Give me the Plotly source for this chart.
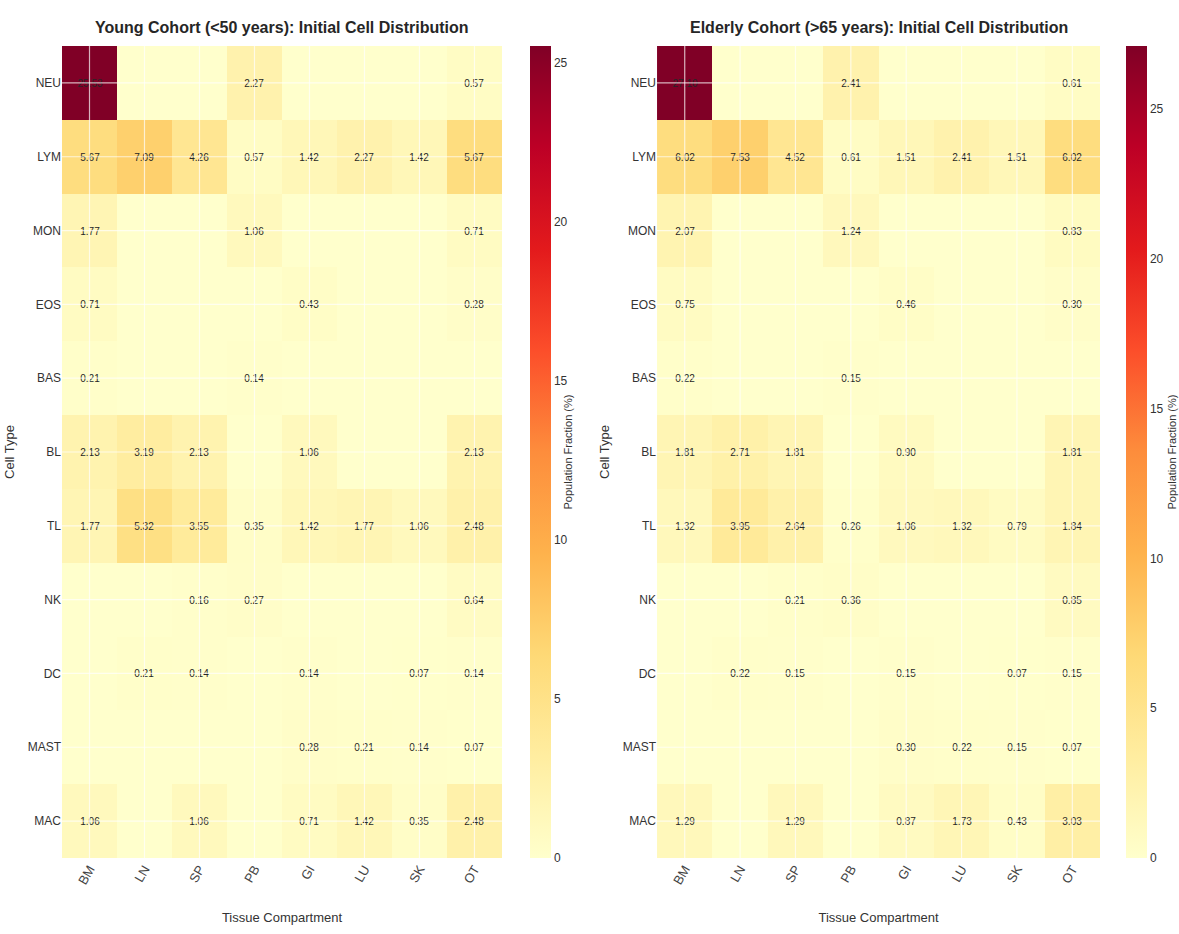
import plotly.graph_objects as go

tissues = ["BM", "LN", "SP", "PB", "GI", "LU", "SK", "OT"]
cell_types = ["NEU", "LYM", "MON", "EOS", "BAS", "BL", "TL", "NK", "DC", "MAST", "MAC"]

young = [
    [25.53, 0, 0, 2.27, 0, 0, 0, 0.57],
    [5.67, 7.09, 4.26, 0.57, 1.42, 2.27, 1.42, 5.67],
    [1.77, 0, 0, 1.06, 0, 0, 0, 0.71],
    [0.71, 0, 0, 0, 0.43, 0, 0, 0.28],
    [0.21, 0, 0, 0.14, 0, 0, 0, 0],
    [2.13, 3.19, 2.13, 0, 1.06, 0, 0, 2.13],
    [1.77, 5.32, 3.55, 0.35, 1.42, 1.77, 1.06, 2.48],
    [0, 0, 0.16, 0.27, 0, 0, 0, 0.64],
    [0, 0.21, 0.14, 0, 0.14, 0, 0.07, 0.14],
    [0, 0, 0, 0, 0.28, 0.21, 0.14, 0.07],
    [1.06, 0, 1.06, 0, 0.71, 1.42, 0.35, 2.48],
]

elderly = [
    [27.10, 0, 0, 2.41, 0, 0, 0, 0.61],
    [6.02, 7.53, 4.52, 0.61, 1.51, 2.41, 1.51, 6.02],
    [2.07, 0, 0, 1.24, 0, 0, 0, 0.83],
    [0.75, 0, 0, 0, 0.46, 0, 0, 0.30],
    [0.22, 0, 0, 0.15, 0, 0, 0, 0],
    [1.81, 2.71, 1.81, 0, 0.90, 0, 0, 1.81],
    [1.32, 3.95, 2.64, 0.26, 1.06, 1.32, 0.79, 1.84],
    [0, 0, 0.21, 0.36, 0, 0, 0, 0.85],
    [0, 0.22, 0.15, 0, 0.15, 0, 0.07, 0.15],
    [0, 0, 0, 0, 0.30, 0.22, 0.15, 0.07],
    [1.29, 0, 1.29, 0, 0.87, 1.73, 0.43, 3.03],
]

titles = ["Young Cohort (<50 years): Initial Cell Distribution",
          "Elderly Cohort (>65 years): Initial Cell Distribution"]

BASE = "Liberation Sans, Arial, DejaVu Sans"

def labels(z):
    return [[("%.2f" % v) if v > 0 else "" for v in row] for row in z]

fig = go.Figure()

domains = [[0.0, 0.4085], [0.5525, 0.9638]]
cbx = [0.4345, 0.9875]

for i, z in enumerate([young, elderly]):
    xa = "x" if i == 0 else "x2"
    ya = "y" if i == 0 else "y2"
    zmax = max(max(r) for r in z)
    fig.add_trace(go.Heatmap(
        z=z, x=tissues, y=cell_types,
        colorscale="YlOrRd", zmin=0, zmax=zmax,
        text=labels(z), texttemplate="%{text}",
        textfont=dict(family=BASE, size=10, color="#262626"),
        xaxis=xa, yaxis=ya,
        colorbar=dict(
            x=cbx[i], xanchor="left", y=0.5, yanchor="middle", len=1.0,
            thickness=21, outlinewidth=0, xpad=0, ypad=0,
            tickvals=[0, 5, 10, 15, 20, 25], ticks="",
            tickfont=dict(family=BASE, size=12, color="#333"),
            title=dict(text="Population Fraction (%)", side="right",
                       font=dict(family=BASE, size=11, color="#333")),
        ),
    ))

    # white grid lines at category centres drawn over the cells
    for t in tissues:
        fig.add_shape(type="line", xref=xa, yref=ya + " domain", x0=t, x1=t, y0=0, y1=1,
                      line=dict(color="white", width=1.2), opacity=0.7, layer="above")
    for c in cell_types:
        fig.add_shape(type="line", xref=xa + " domain", yref=ya, x0=0, x1=1, y0=c, y1=c,
                      line=dict(color="white", width=1.2), opacity=0.7, layer="above")

    fig.add_annotation(text="<b>" + titles[i] + "</b>", xref="paper", yref="paper",
                       x=(domains[i][0] + domains[i][1]) / 2, y=1.0, yshift=8,
                       xanchor="center", yanchor="bottom", showarrow=False,
                       font=dict(family=BASE, size=16, color="#262626"))

common_x = dict(tickangle=-60, showgrid=False, zeroline=False, ticks="",
                tickfont=dict(family=BASE, size=13, color="#444"),
                title=dict(text="Tissue Compartment", font=dict(family=BASE, size=13, color="#333"), standoff=26))
common_y = dict(autorange="reversed", showgrid=False, zeroline=False, ticks="",
                tickfont=dict(family=BASE, size=12, color="#333"),
                title=dict(text="Cell Type", font=dict(family=BASE, size=13, color="#333"), standoff=10))

fig.update_layout(
    width=1179, height=934,
    margin=dict(l=62, r=40, t=46, b=76, autoexpand=False),
    paper_bgcolor="white", plot_bgcolor="white",
    xaxis=dict(domain=domains[0], anchor="y", **common_x),
    yaxis=dict(domain=[0, 1], anchor="x", **common_y),
    xaxis2=dict(domain=domains[1], anchor="y2", **common_x),
    yaxis2=dict(domain=[0, 1], anchor="x2", **common_y),
    showlegend=False,
)

fig.write_html("out.html", config={"displayModeBar": False},
               post_script="document.body.style.margin='0';document.body.style.overflow='hidden';")
